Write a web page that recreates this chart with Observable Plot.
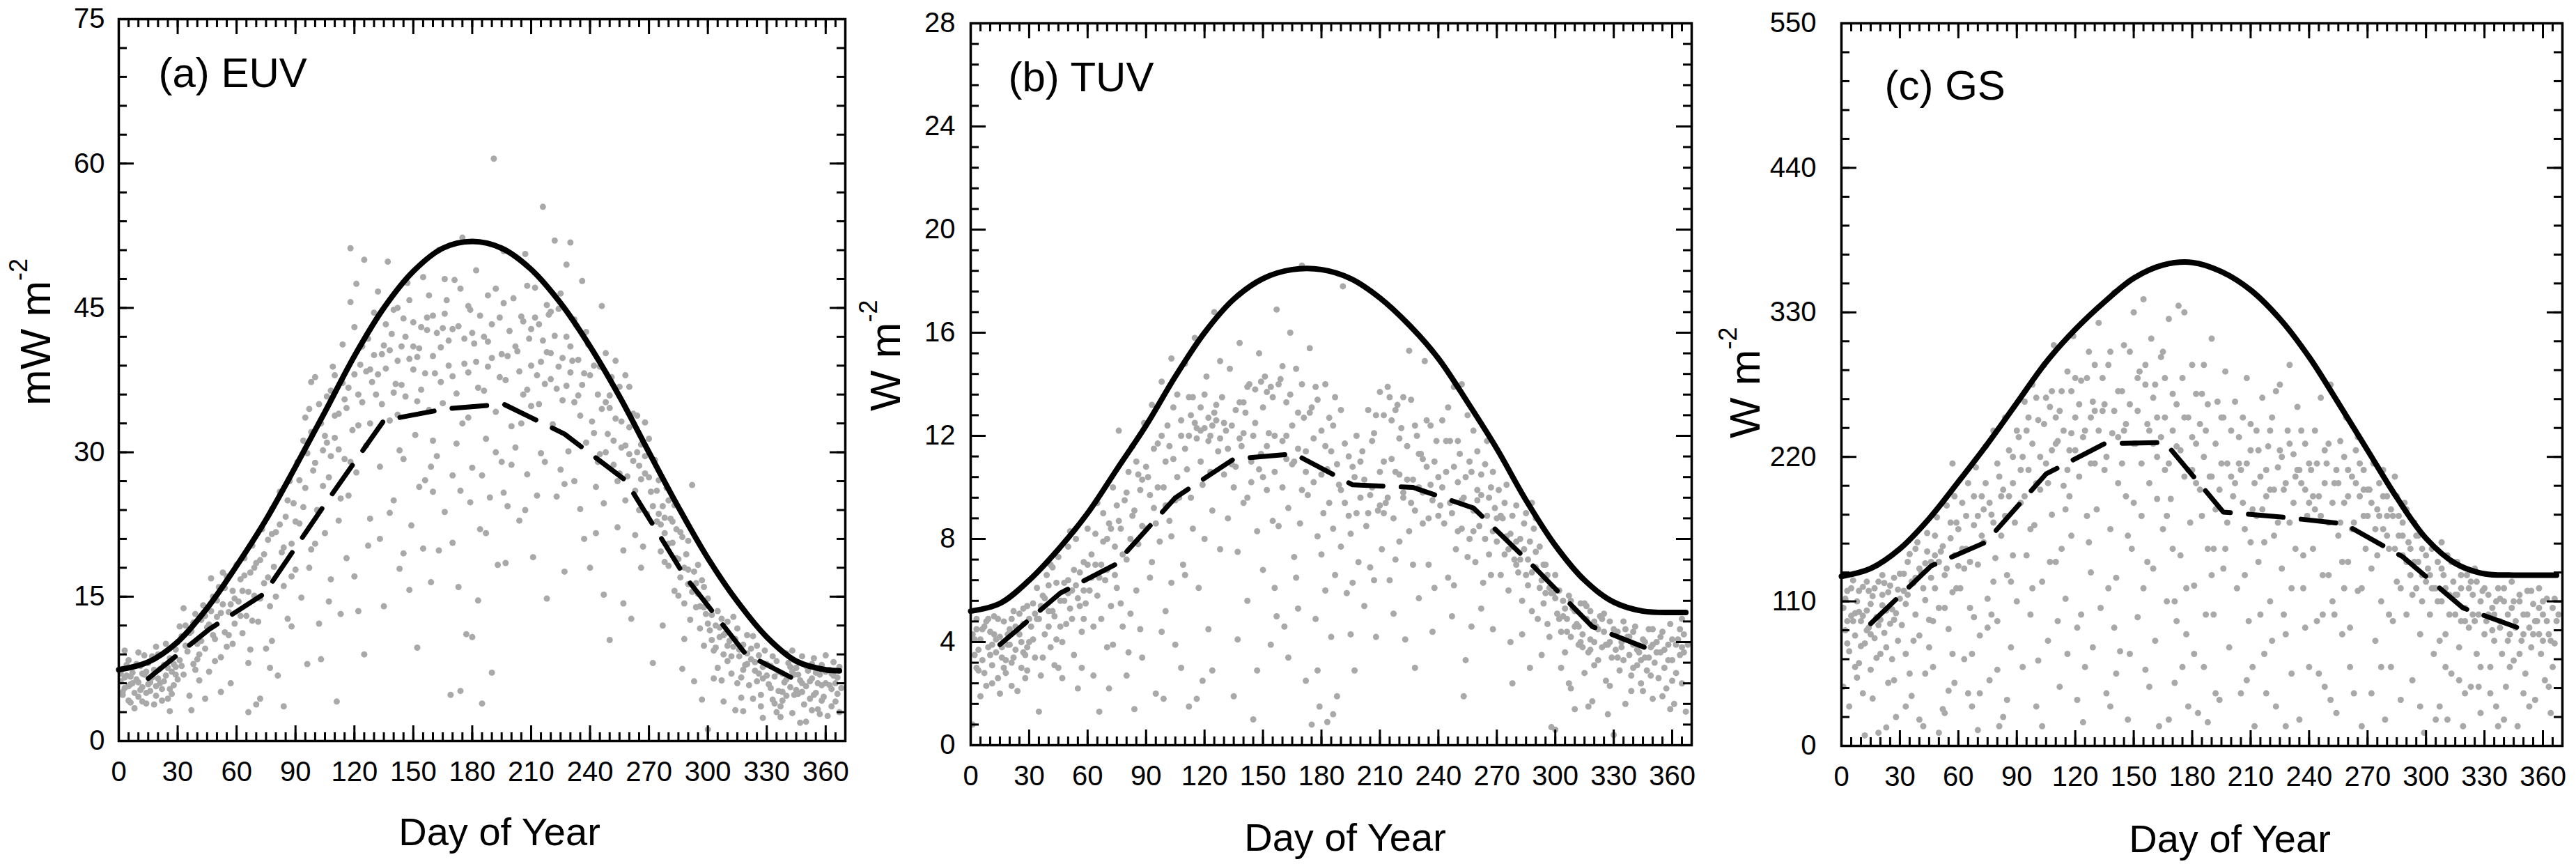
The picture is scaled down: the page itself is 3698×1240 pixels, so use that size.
<!DOCTYPE html>
<html>
<head>
<meta charset="utf-8">
<script src="https://cdn.jsdelivr.net/npm/d3@7"></script>
<script src="https://cdn.jsdelivr.net/npm/@observablehq/plot@0.6"></script>
<style>
  html, body { margin: 0; padding: 0; background: white; }
  #wrap { position: relative; width: 3698px; height: 1240px; background: white; overflow: hidden; }
  #wrap svg { position: absolute; top: 0; }
</style>
</head>
<body>
<div id="wrap"></div>
<script>
// ---------------- DATA ----------------
const xTicks = [0, 30, 60, 90, 120, 150, 180, 210, 240, 270, 300, 330, 360];
const euvTicks = [0, 15, 30, 45, 60, 75];
const tuvTicks = [0, 4, 8, 12, 16, 20, 24, 28];
const gsTicks = [0, 110, 220, 330, 440, 550];

// clear-sky (solid) curve, sampled days
const clearDays = [0, 15, 30, 45, 60, 75, 90, 105, 120, 135, 150, 165, 180, 195, 210, 225, 240, 255, 270, 285, 300, 315, 330, 345, 360, 367];
const euvClear = [7.4, 8.2, 10.3, 13.8, 18.2, 23.0, 28.5, 34.2, 40.0, 45.0, 48.8, 51.2, 51.9, 51.2, 49.0, 45.5, 41.0, 35.8, 30.0, 24.3, 19.0, 14.5, 10.8, 8.3, 7.4, 7.3];
const tuvClear = [5.2, 5.5, 6.4, 7.6, 9.0, 10.7, 12.4, 14.3, 16.0, 17.3, 18.1, 18.45, 18.45, 18.1, 17.35, 16.3, 15.0, 13.3, 11.5, 9.5, 7.75, 6.4, 5.55, 5.2, 5.15, 5.15];
const gsClear = [129, 135, 150, 173, 201, 230, 261, 292, 317, 338, 356, 366, 368, 361, 347, 325, 296, 261, 225, 189, 158, 139, 131, 130, 130, 130];

// monthly mean (dashed) curve
const monthDays = [15, 46, 74, 105, 135, 166, 196, 227, 258, 288, 319, 349];
const euvMean = [6.5, 11.6, 15.3, 24.6, 33.3, 34.5, 35.0, 31.9, 27.1, 17.2, 9.1, 5.9];
const tuvMean = [3.9, 5.9, 7.0, 9.6, 11.1, 11.3, 10.1, 10.0, 9.2, 7.0, 4.6, 3.7];
const gsMean = [93, 137, 155, 207, 230, 231, 178, 174, 169, 144, 105, 89];

// observed daily values: flat [day, value, day, value, ...]
const euvObs = [
1,6.2,2,4.8,2,7.5,3,5.5,4,6.8,5,4.2,5,8.4,6,5.9,7,7.1,8,5.0,9,6.4,10,9.2,10,4.6,11,7.8,12,5.6,13,6.9,14,3.9,15,8.1,16,5.2,17,6.6,18,7.4,19,4.7,20,9.0,21,6.0,22,5.4,23,7.9,24,6.8,25,4.4,26,8.6,27,7.2,28,5.8,29,9.5,30,6.4,3,9.4,8,3.4,13,8.9,18,3.8,24,10.1,27,4.9,12,7.0,6,6.7,20,6.5,15,5.9,
2,5.1,4,7.9,6,4.0,7,6.0,9,8.0,11,5.3,12,4.1,14,7.2,16,6.1,17,8.8,19,5.7,21,7.5,22,4.2,23,6.2,25,7.6,26,5.4,28,8.0,29,6.9,30,10.3,1,7.0,3,6.6,5,5.7,10,6.1,14,5.0,19,9.8,26,3.1,29,7.7,
31,8.4,32,10.9,33,6.9,34,12.0,35,9.3,36,4.7,37,11.4,38,8.0,39,13.2,40,10.1,41,6.3,42,12.6,43,14.1,44,9.6,45,11.8,46,7.2,47,13.5,48,15.0,49,10.6,50,12.9,51,16.0,52,8.7,53,14.2,54,11.3,55,17.1,56,13.4,57,6.0,58,15.6,59,12.2,60,18.3,37,3.2,44,4.4,52,5.1,33,13.8,47,16.9,55,9.8,41,9.0,58,10.1,
32,7.8,34,9.9,36,11.2,38,12.3,40,8.5,42,10.4,44,13.0,46,12.1,48,11.0,50,14.6,52,13.3,54,15.9,56,11.0,59,14.8,31,11.9,39,7.4,49,8.3,53,17.5,57,14.2,
61,14.5,62,16.8,63,11.2,64,19.0,65,13.0,66,8.1,67,17.5,68,20.3,69,15.1,70,3.8,71,12.4,72,18.8,73,22.0,74,16.4,75,9.6,76,20.9,77,14.0,78,24.1,79,18.1,80,21.7,81,6.8,82,25.9,83,19.6,84,16.1,85,23.3,86,12.7,87,27.0,88,20.5,89,24.7,90,17.8,66,3.0,72,4.4,84,3.6,78,10.4,88,11.9,63,15.6,69,18.0,
62,13.0,64,17.2,66,15.5,68,12.5,70,18.5,72,14.8,74,19.4,76,17.0,78,21.5,80,15.0,82,22.5,84,20.1,86,25.0,88,17.1,90,22.8,67,9.5,77,7.6,
91,29.0,92,22.6,93,14.9,94,31.2,95,26.3,96,8.0,97,34.5,98,19.9,99,28.1,100,37.8,101,24.0,102,12.2,103,33.0,104,30.2,105,21.6,106,35.8,107,27.4,108,16.8,109,38.9,110,31.5,111,4.1,112,34.0,113,25.2,114,41.2,115,29.3,116,19.0,117,36.7,118,51.2,119,32.3,120,43.0,121,27.9,122,13.5,123,39.1,124,35.2,125,50.0,126,30.7,127,41.8,128,23.1,129,37.3,130,44.5,95,33.6,100,20.5,105,31.7,110,38.0,115,35.5,120,17.1,125,9.0,112,22.9,118,45.6,103,8.5,108,29.6,128,38.6,122,32.8,113,13.2,98,37.3,
92,27.1,94,24.3,96,29.9,98,32.1,100,28.9,102,35.0,104,26.5,106,31.0,108,36.4,110,33.8,112,30.3,114,37.2,116,34.6,118,29.0,120,38.1,122,36.0,124,41.0,126,38.4,128,33.0,130,40.1,97,18.0,107,14.5,117,25.5,127,20.3,121,47.5,
131,36.0,132,46.7,133,28.5,134,40.2,135,14.0,136,38.7,137,49.8,138,33.3,139,42.3,140,25.0,141,37.1,142,45.0,143,30.2,144,41.0,145,19.5,146,35.8,147,47.6,148,39.7,149,22.4,150,43.5,151,31.8,152,9.7,153,40.8,154,36.5,155,48.2,156,27.1,157,42.7,158,34.4,159,16.5,160,44.2,161,38.2,162,29.6,163,51.0,164,40.9,165,35.1,166,23.8,167,45.8,168,41.6,169,4.8,170,37.9,171,47.9,172,30.9,173,43.1,174,26.0,175,52.3,176,39.2,177,11.1,178,33.6,179,44.8,180,28.4,181,41.3,182,48.9,183,36.7,184,22.0,185,3.9,186,42.0,187,31.4,188,46.3,189,25.3,190,39.8,191,60.5,192,34.2,193,18.3,194,44.0,195,29.0,196,50.9,197,37.5,198,24.4,199,42.6,200,32.7,
135,41.1,140,36.2,145,29.3,150,38.6,155,20.0,160,31.2,165,42.9,170,20.6,175,33.0,180,10.8,185,27.6,190,7.1,195,40.2,145,43.9,160,25.9,170,27.6,178,45.2,152,39.9,188,38.9,142,33.9,174,5.2,183,14.6,166,48.0,157,44.0,138,23.7,196,25.8,148,15.7,192,47.0,
132,38.1,134,35.0,136,43.3,138,40.6,140,44.8,142,39.5,144,37.0,146,42.0,148,45.8,150,41.0,152,35.3,154,43.0,156,38.2,158,46.3,160,40.0,162,42.4,164,37.3,166,44.4,168,39.0,170,42.8,172,36.1,174,47.0,176,41.8,178,38.3,180,42.4,182,39.4,184,44.2,186,36.4,188,41.5,190,43.3,192,30.0,194,37.8,196,45.5,198,40.0,200,28.7,133,21.0,143,17.9,153,26.4,163,19.8,173,16.0,187,21.6,197,18.5,159,28.5,179,24.8,
201,46.0,202,30.5,203,40.5,204,22.9,205,44.1,206,36.0,207,50.6,208,27.7,209,41.8,210,34.8,211,19.1,212,47.1,213,38.0,214,43.3,215,29.9,216,55.5,217,37.1,218,14.8,219,44.3,220,40.3,221,32.9,222,52.0,223,25.4,224,38.9,225,46.5,226,35.4,227,17.6,228,42.0,229,30.1,230,51.8,231,39.5,232,27.0,233,43.2,234,35.9,235,24.1,236,47.8,237,38.2,238,31.0,239,41.2,240,18.0,205,33.0,210,42.8,215,39.4,220,44.6,225,28.2,230,38.3,235,33.8,213,25.5,223,36.6,232,43.8,208,47.3,218,40.4,228,49.5,
202,41.0,204,38.4,206,43.6,208,36.5,210,39.0,212,44.0,214,35.0,216,41.6,218,45.3,220,37.6,222,42.1,224,44.9,226,39.8,228,36.9,230,41.0,232,35.2,234,39.6,236,37.0,238,42.5,240,38.0,207,24.0,217,29.0,227,26.7,237,21.0,
241,33.2,242,39.0,243,26.4,244,36.0,245,29.8,246,45.2,247,24.7,248,35.2,249,31.9,250,10.5,251,37.8,252,28.7,253,33.5,254,22.2,255,36.8,256,30.5,257,19.8,258,38.0,259,27.5,260,32.6,261,12.7,262,29.1,263,26.0,264,33.8,265,24.0,266,30.8,267,20.2,268,27.8,269,23.6,270,31.4,245,38.9,250,34.6,255,27.8,260,36.8,265,28.6,248,40.3,258,25.0,268,33.1,243,21.6,253,39.5,263,21.4,
242,32.0,244,29.0,246,34.5,248,30.0,250,35.9,252,31.2,254,27.0,256,33.2,258,30.7,260,29.8,262,34.0,264,30.0,266,27.2,268,29.6,270,27.4,247,15.2,257,14.3,266,18.0,
271,25.9,272,8.1,273,29.2,274,22.8,275,27.1,276,19.7,277,24.4,278,21.6,279,26.3,280,18.2,281,23.1,282,20.6,283,15.6,284,22.0,285,18.9,286,17.0,287,21.2,288,14.3,289,19.4,290,16.3,291,12.6,292,26.6,293,17.6,294,13.9,295,15.3,296,11.7,297,16.7,298,9.9,299,13.2,300,14.8,275,23.6,280,25.0,285,15.1,290,20.8,295,18.3,278,18.6,288,10.6,298,16.0,283,24.5,293,6.2,300,1.2,
272,24.4,274,26.0,276,22.5,278,23.2,280,20.5,282,22.8,284,19.0,286,21.7,288,18.0,290,17.8,292,15.5,294,16.4,296,14.0,298,13.9,300,12.2,277,12.0,287,7.5,297,4.3,
301,11.5,302,13.1,303,9.4,304,12.0,305,7.6,306,10.8,307,12.7,308,9.0,309,11.2,310,8.3,311,10.4,312,7.0,313,9.8,314,3.2,315,11.7,316,8.8,317,6.6,318,10.0,319,7.9,320,9.1,321,5.8,322,8.5,323,10.9,324,7.3,325,6.2,326,8.9,327,4.8,328,7.7,329,9.4,330,6.8,305,13.5,310,12.4,315,6.0,320,11.0,325,9.9,308,4.1,318,3.1,328,2.4,303,6.5,313,12.9,323,4.4,
302,10.5,304,9.7,306,11.8,308,11.0,310,9.9,312,8.8,314,10.6,316,9.5,318,7.4,320,8.0,322,9.6,324,8.2,326,7.0,328,6.5,330,8.0,307,6.3,317,4.5,327,3.6,
331,5.9,332,7.8,333,4.3,334,6.7,335,8.3,336,5.2,337,3.6,338,7.0,339,6.1,340,4.7,341,8.1,342,5.6,343,2.9,344,6.9,345,7.6,346,4.9,347,6.3,348,8.8,349,3.8,350,5.7,351,7.3,352,4.4,353,6.5,354,8.6,355,5.0,356,3.3,357,6.9,358,7.9,359,4.6,360,6.0,361,2.6,362,7.4,363,5.4,364,8.2,365,4.1,366,6.6,367,3.0,335,3.0,340,9.1,345,5.3,350,2.0,355,7.1,360,8.9,365,6.0,338,5.1,348,6.0,358,5.8,343,9.4,353,3.2,363,3.6,
332,5.5,334,3.9,336,7.2,338,4.2,340,6.4,342,7.7,344,4.8,346,6.9,348,5.1,350,7.8,352,6.2,354,4.8,356,6.0,358,4.2,360,7.2,362,5.8,364,6.8,366,4.9,368,5.5,333,8.8,343,7.2,353,8.0,363,7.0,337,2.5,347,1.9,357,2.8,367,7.7
];

const tuvObs = [
1,4.3,1,0.8,2,3.5,3,4.9,4,2.9,5,4.1,6,3.3,7,4.6,8,2.3,9,3.8,10,4.4,11,3.1,12,5.0,13,3.6,14,2.6,15,4.2,16,3.4,17,4.8,18,2.8,19,3.9,20,4.5,21,3.2,22,5.2,23,3.7,24,2.1,25,4.3,26,3.0,27,4.7,28,3.5,29,5.4,30,4.0,3,3.0,8,4.8,13,4.1,18,3.3,23,4.6,28,2.6,5,1.9,15,2.0,25,5.1,10,3.5,20,3.9,27,3.6,
2,4.1,4,3.7,6,4.5,7,2.8,9,4.9,11,3.9,12,4.3,14,4.9,16,3.8,17,3.0,19,4.3,21,4.9,22,3.4,24,4.5,26,4.0,27,5.3,29,3.8,30,4.9,3,4.5,11,2.4,21,2.3,29,2.9,
31,4.6,32,5.5,33,3.4,34,6.1,35,4.9,36,2.7,37,5.8,38,4.3,39,6.6,40,5.2,41,3.8,42,6.9,43,5.0,44,4.1,45,7.3,46,5.6,47,2.6,48,6.3,49,4.7,50,7.7,51,5.3,52,6.0,53,3.5,54,8.0,55,5.7,56,6.7,57,4.4,58,7.1,59,5.5,60,8.4,35,1.3,45,3.0,55,2.2,40,6.2,50,5.9,58,4.9,33,5.1,43,3.1,53,6.8,
32,4.1,34,4.9,36,5.4,38,5.7,40,4.6,42,5.2,44,6.3,46,4.6,48,5.6,50,6.4,52,4.9,54,6.2,56,5.4,58,6.0,60,7.0,37,3.4,47,4.0,57,3.0,41,7.0,51,8.3,
61,6.0,62,7.4,63,4.6,64,8.2,65,5.8,66,1.3,67,7.0,68,9.0,69,6.4,70,3.8,71,8.6,72,5.4,73,10.0,74,7.7,75,6.1,76,12.2,77,8.4,78,4.6,79,9.5,80,7.2,81,10.6,82,5.1,83,8.9,84,1.4,85,11.0,86,7.8,87,9.9,88,3.4,89,12.5,90,8.4,65,9.4,70,8.0,75,9.3,80,2.7,85,6.0,88,10.3,63,2.7,73,3.9,83,11.6,
62,6.5,64,7.0,66,6.5,68,7.9,70,6.8,72,8.4,74,6.6,76,8.7,78,7.4,80,9.8,82,8.0,84,9.1,86,10.5,88,8.5,90,10.8,67,4.9,77,5.5,87,4.5,71,2.2,81,3.6,
91,10.4,92,6.5,93,13.2,94,9.2,95,2.0,96,11.7,97,7.9,98,14.1,99,10.0,100,5.2,101,12.4,102,8.7,103,15.0,104,11.1,105,3.9,106,13.6,107,9.6,108,12.0,109,7.0,110,14.8,111,10.7,112,1.5,113,12.8,114,8.4,115,15.8,116,11.9,117,6.1,118,13.1,119,10.1,120,12.3,121,14.3,122,4.5,123,12.0,124,9.1,125,16.8,126,12.6,127,11.4,128,7.6,129,13.5,130,10.5,95,8.6,100,11.0,105,9.5,110,6.6,115,12.5,120,8.0,125,12.9,112,13.5,118,11.0,122,12.7,128,14.9,108,3.0,116,1.8,124,2.9,98,4.4,103,6.3,
92,9.7,94,11.5,96,10.0,98,12.0,100,9.3,102,11.6,104,13.1,106,10.4,108,12.6,110,11.5,112,12.0,114,13.5,116,12.3,118,12.2,120,13.6,122,11.8,124,12.4,126,13.2,128,11.9,130,12.5,93,7.1,103,8.1,113,9.6,123,10.6,99,1.8,119,2.5,
131,12.2,132,8.8,133,14.6,134,10.9,135,1.9,136,13.0,137,7.5,138,15.6,139,11.6,140,9.4,141,12.9,142,5.6,143,14.0,144,10.2,145,1.0,146,13.8,147,8.3,148,15.2,149,11.3,150,6.8,151,14.3,152,9.9,153,12.1,154,3.9,155,13.5,156,10.6,157,16.9,158,8.5,159,14.2,160,11.8,161,4.6,162,13.3,163,9.2,164,16.0,165,10.9,166,7.3,167,14.6,168,11.5,169,8.6,170,18.6,171,12.7,172,2.5,173,9.7,174,15.4,175,0.8,176,11.9,177,13.9,178,8.1,179,1.5,180,12.2,181,9.0,182,6.0,183,10.7,184,12.7,185,4.2,186,8.4,187,13.5,188,1.9,189,10.1,190,7.7,191,17.8,192,9.4,193,5.9,194,11.2,195,8.2,196,6.3,197,10.4,198,12.0,199,7.1,200,9.6,
135,10.0,140,13.3,145,12.0,150,10.4,155,8.7,160,14.7,165,12.4,170,9.9,175,13.1,180,7.4,185,11.4,190,13.0,195,4.3,142,9.6,152,13.7,162,11.1,172,10.6,182,14.0,156,6.1,168,5.3,178,2.9,186,1.2,149,14.1,138,11.9,
132,11.5,134,12.4,136,10.8,138,13.3,140,12.1,142,13.9,144,11.0,146,12.5,148,10.7,150,13.1,152,11.6,154,13.9,156,12.0,158,14.0,160,10.0,162,12.0,164,13.6,166,11.0,168,12.9,170,14.0,172,11.4,174,12.9,176,10.2,178,13.4,180,10.5,182,11.6,184,9.4,186,12.4,188,10.9,190,9.9,192,11.7,194,8.9,196,10.8,198,9.0,200,11.0,137,4.1,147,2.9,157,5.0,167,6.5,177,4.9,187,6.6,197,2.9,163,3.4,183,0.9,
201,11.4,202,5.4,203,8.5,204,13.0,205,6.9,206,10.0,207,12.1,208,4.2,209,9.1,210,13.7,211,7.6,212,11.0,213,9.4,214,13.9,215,6.4,216,12.6,217,8.8,218,10.6,219,13.2,220,7.9,221,12.3,222,9.8,223,4.1,224,11.6,225,8.3,226,13.4,227,10.3,228,9.1,229,12.0,230,5.7,231,11.3,232,8.6,233,14.9,234,10.8,235,7.0,236,12.4,237,9.5,238,6.1,239,11.8,240,8.9,205,9.7,210,9.3,215,13.5,220,10.5,225,15.3,230,10.0,235,8.8,212,9.0,222,9.6,232,11.1,218,7.2,228,3.0,
202,10.3,204,9.0,206,11.8,208,12.8,210,10.6,212,12.8,214,9.6,216,11.1,218,13.0,220,11.9,222,13.5,224,10.3,226,9.4,228,12.4,230,11.3,232,9.8,234,12.6,236,10.1,238,11.0,240,10.4,207,6.4,217,5.1,227,7.0,237,4.4,
241,9.3,242,12.6,243,8.6,244,10.6,245,6.5,246,11.8,247,9.0,248,13.9,249,7.6,250,10.2,251,11.3,252,8.4,253,9.6,254,3.3,255,12.8,256,8.0,257,10.6,258,9.1,259,7.1,260,11.4,261,8.5,262,9.7,263,6.3,264,10.9,265,8.9,266,7.4,267,10.0,268,4.5,269,9.2,270,7.9,245,13.1,250,8.3,255,7.3,260,9.5,265,11.8,248,6.2,258,12.2,268,8.3,252,14.0,262,5.3,
242,10.0,244,11.8,246,9.4,248,10.8,250,11.8,252,9.5,254,10.4,256,11.0,258,8.3,260,9.9,262,10.5,264,8.0,266,9.6,268,10.6,270,8.8,247,5.0,257,4.6,267,6.6,253,1.9,
271,9.9,272,6.6,273,8.8,274,7.4,275,10.1,276,6.0,277,8.2,278,2.4,279,7.2,280,9.3,281,6.7,282,8.0,283,5.6,284,7.6,285,9.0,286,6.2,287,7.9,288,5.2,289,8.4,290,6.9,291,4.9,292,7.7,293,6.4,294,5.5,295,7.0,296,4.7,297,6.1,298,0.7,299,5.9,300,6.6,275,8.1,280,7.0,285,6.6,290,8.8,295,5.9,300,0.6,283,4.3,293,3.5,278,7.7,288,9.4,
272,8.9,274,9.4,276,7.6,278,8.9,280,7.9,282,7.2,284,8.6,286,7.2,288,6.7,290,7.5,292,6.1,294,7.0,296,6.6,298,5.9,300,5.7,277,4.0,287,3.0,297,4.2,
301,5.1,302,6.0,303,4.4,304,5.6,305,3.6,306,4.9,307,5.8,308,4.2,309,5.3,310,1.4,311,4.7,312,3.9,313,5.5,314,4.3,315,2.8,316,4.9,317,3.6,318,5.2,319,1.7,320,4.0,321,4.6,322,3.3,323,5.0,324,3.8,325,4.4,326,2.5,327,3.9,328,4.8,329,3.4,330,0.4,305,5.3,310,4.6,315,5.5,320,3.1,325,5.1,308,2.2,318,4.1,328,2.3,303,3.0,313,4.0,
302,4.9,304,5.0,306,4.4,308,5.6,310,5.2,312,4.6,314,3.8,316,5.4,318,3.7,320,4.8,322,4.5,324,4.9,326,3.9,328,4.0,330,4.5,307,2.4,317,1.5,327,1.2,
331,3.7,332,4.4,333,2.9,334,4.0,335,3.3,336,1.6,337,4.2,338,3.5,339,2.7,340,3.9,341,4.6,342,3.1,343,3.6,344,2.4,345,4.1,346,3.4,347,2.9,348,4.5,349,3.8,350,1.8,351,3.2,352,4.0,353,2.6,354,3.6,355,4.4,356,3.0,357,2.2,358,3.9,359,4.7,360,3.3,361,1.6,362,2.8,363,4.1,364,3.5,365,2.4,366,4.3,367,1.3,335,4.8,345,2.1,355,1.9,365,3.8,340,3.0,350,4.5,360,2.5,
332,3.4,334,3.8,336,4.5,338,4.2,340,4.4,342,3.7,344,3.3,346,4.0,348,3.4,350,3.9,352,3.6,354,4.2,356,3.7,358,3.3,360,4.1,362,3.9,364,4.5,366,3.6,368,3.9,339,2.1,349,2.7,359,1.4,365,4.9
];

const gsObs = [
1,105,1,45,2,88,3,118,4,72,5,99,6,126,7,84,8,110,9,63,10,95,11,121,12,78,13,103,14,90,15,58,16,114,17,82,18,98,19,125,20,70,21,107,22,86,23,14,24,117,25,93,26,66,27,128,28,101,29,80,30,112,4,30,8,52,12,8,16,36,20,96,24,48,28,22,6,95,14,118,22,124,26,104,10,76,18,67,
2,112,3,95,5,120,7,101,9,118,11,99,13,125,15,108,17,120,19,92,21,115,23,103,25,122,27,96,29,119,30,131,3,78,7,60,11,40,15,85,19,10,23,75,27,50,13,88,21,130,9,102,
31,92,32,131,33,70,34,115,35,146,36,38,37,124,38,100,39,155,40,84,41,132,42,15,43,111,44,162,45,96,46,140,47,60,48,120,49,174,50,105,51,148,52,28,53,130,54,183,55,89,56,158,57,117,58,48,59,170,60,137,35,55,40,20,45,75,50,10,55,42,38,128,48,145,58,190,33,108,43,139,53,105,57,215,
32,118,34,140,36,125,38,150,40,135,42,120,44,148,46,128,48,160,50,140,52,152,54,135,56,170,58,145,60,165,37,80,47,95,57,70,33,30,43,55,53,25,59,120,
61,120,62,185,63,66,64,150,65,200,66,105,67,30,68,168,69,212,70,138,71,84,72,190,73,155,74,228,75,112,76,50,77,176,78,240,79,143,80,95,81,205,82,160,83,22,84,250,85,130,86,190,87,75,88,220,89,170,90,110,65,40,70,12,75,90,80,58,85,35,88,145,63,135,73,180,83,195,78,125,68,98,
62,150,64,175,66,140,68,190,70,175,72,160,74,200,76,185,78,170,80,215,82,190,84,175,86,225,88,200,90,240,67,70,77,100,87,125,71,40,81,15,
91,235,92,185,93,60,94,262,95,145,96,210,97,100,98,275,99,168,100,30,101,248,102,195,103,125,104,290,105,215,106,80,107,258,108,176,109,305,110,140,111,232,112,45,113,270,114,198,115,112,116,285,117,225,118,160,119,312,120,250,121,90,122,205,123,278,124,18,125,240,126,175,127,300,128,132,129,262,130,215,95,240,100,200,105,265,110,250,115,180,120,280,125,60,130,290,98,120,108,225,118,238,128,250,103,15,113,150,123,100,93,220,116,70,
92,210,94,190,96,250,98,230,100,265,102,220,104,245,106,200,108,270,110,230,112,255,114,240,116,210,118,270,120,225,122,260,124,235,126,280,128,215,130,255,97,165,107,140,117,190,127,155,101,65,111,95,121,35,129,75,
131,180,132,322,133,105,134,255,135,210,136,40,137,290,138,165,139,238,140,345,141,128,142,270,143,72,144,215,145,305,146,190,147,20,148,260,149,150,150,330,151,230,152,98,153,285,154,175,155,340,156,58,157,245,158,200,159,310,160,135,161,275,162,220,163,15,164,296,165,165,166,250,167,110,168,325,169,188,170,268,171,48,172,228,173,335,174,145,175,280,176,205,177,85,178,250,179,170,180,290,181,122,182,230,183,25,184,195,185,268,186,60,187,240,188,150,189,205,190,310,191,100,192,180,193,262,194,35,195,215,196,135,197,285,198,170,199,75,200,240,
135,260,140,90,145,240,150,185,155,120,160,230,165,300,170,150,175,60,180,210,185,175,190,130,195,250,142,200,152,280,162,188,172,95,182,268,192,40,138,30,148,70,158,45,168,20,178,30,188,18,156,275,166,210,176,330,186,290,
132,240,134,280,136,220,138,300,140,255,142,235,144,270,146,245,148,300,150,230,152,255,154,215,156,290,158,240,160,265,162,250,164,235,166,280,168,215,170,240,172,260,174,225,176,250,178,210,180,235,182,200,184,245,186,220,188,260,190,205,192,230,194,195,196,250,198,215,200,205,137,120,147,160,157,140,167,175,177,120,187,100,197,150,141,55,161,80,171,110,181,70,191,150,
201,190,202,262,203,120,204,215,205,40,206,250,207,165,208,280,209,95,210,225,211,180,212,15,213,240,214,140,215,205,216,265,217,70,218,190,219,228,220,110,221,250,222,160,223,30,224,212,225,275,226,135,227,195,228,85,229,240,230,170,231,55,232,222,233,150,234,258,235,20,236,200,237,120,238,230,239,175,240,60,205,210,210,155,215,100,220,195,225,225,230,290,235,210,240,185,208,50,218,40,228,15,238,90,213,175,223,270,233,205,
202,200,204,235,206,185,208,215,210,245,212,200,214,225,216,180,218,210,220,240,222,195,224,170,226,220,228,200,230,230,232,185,234,210,236,240,238,195,240,215,207,130,217,155,227,100,237,145,211,60,221,80,231,120,
241,210,242,150,243,240,244,95,245,190,246,265,247,130,248,45,249,215,250,170,251,275,252,110,253,200,254,25,255,160,256,232,257,85,258,185,259,250,260,140,261,60,262,205,263,170,264,225,265,118,266,190,267,15,268,210,269,150,270,175,245,55,250,130,255,200,260,210,265,235,243,180,253,100,263,40,268,195,258,120,248,225,
242,190,244,215,246,175,248,200,250,230,252,185,254,210,256,170,258,220,260,190,262,165,264,200,266,215,268,175,270,195,247,100,257,140,267,120,251,35,261,90,
271,195,272,135,273,215,274,80,275,180,276,200,277,110,278,165,279,20,280,190,281,150,282,60,283,175,284,205,285,125,286,160,287,35,288,145,289,185,290,100,291,155,292,130,293,50,294,170,295,120,296,140,297,85,298,150,299,10,300,125,275,145,280,175,285,190,290,140,295,160,272,40,283,95,293,115,278,210,288,170,298,110,
272,185,274,165,276,175,278,190,280,160,282,180,284,150,286,175,288,160,290,180,292,150,294,140,296,160,298,130,300,145,277,60,287,120,297,30,281,100,
301,135,302,100,303,150,304,70,305,120,306,140,307,30,308,110,309,130,310,85,311,145,312,115,313,55,314,125,315,100,316,140,317,75,318,120,319,15,320,105,321,130,322,90,323,45,324,115,325,135,326,70,327,100,328,25,329,118,330,85,305,20,310,60,315,115,320,40,325,95,303,120,313,140,323,125,318,95,308,155,328,60,
302,130,304,120,306,110,308,135,310,120,312,100,314,140,316,115,318,130,320,95,322,120,324,100,326,125,328,110,330,120,307,80,317,50,327,45,311,20,
331,95,332,115,333,60,334,105,335,80,336,30,337,120,338,90,339,70,340,110,341,45,342,100,343,85,344,125,345,65,346,95,347,15,348,110,349,80,350,100,351,55,352,118,353,90,354,75,355,108,356,35,357,95,358,120,359,70,360,100,361,50,362,112,363,85,364,25,365,105,366,78,367,95,335,100,345,110,355,85,365,60,340,20,350,40,360,80,338,112,348,70,358,105,
332,100,334,88,336,110,338,95,340,120,342,80,344,105,346,90,348,115,350,85,352,100,354,118,356,95,358,85,360,110,362,95,364,80,366,112,368,100,333,40,343,60,353,30,363,45,337,15
];

// ---------------- DRAW ----------------
const FONT = "'Liberation Sans', Arial, Helvetica, sans-serif";
const H = 1240;

function pairs(flat) {
  const out = [];
  for (let i = 0; i < flat.length; i += 2) out.push({ d: flat[i], v: flat[i + 1] });
  return out;
}
function zip(days, vals) { return days.map((d, i) => ({ d, v: vals[i] })); }

function panel(o) {
  const fw = o.width - o.mL - o.mR;
  const fh = H - o.mT - o.mB;
  const ymax = o.yTicks[o.yTicks.length - 1];
  const yMinorStep = (o.yTicks[1] - o.yTicks[0]) / 5;
  const xMinor = d3.range(5, 370, 5);
  const yMinor = d3.range(1, 5 * (o.yTicks.length - 1)).map(i => i * yMinorStep);
  const yMajor = o.yTicks.slice(1, -1);
  const xMajor = xTicks.slice(1);
  const tk = { stroke: "black", strokeWidth: 3 };
  const minL = 12, majL = 22;

  const svg = Plot.plot({
    width: o.width, height: H,
    marginLeft: o.mL, marginRight: o.mR, marginTop: o.mT, marginBottom: o.mB,
    x: { domain: [0, 370] },
    y: { domain: [0, ymax] },
    style: { fontFamily: FONT, background: "white", color: "black", overflow: "visible" },
    marks: [
      Plot.dot(pairs(o.obs), { x: "d", y: "v", r: 4.5, fill: "#a9a9a9", stroke: "none" }),
      Plot.line(zip(clearDays, o.clear), { x: "d", y: "v", stroke: "black", strokeWidth: 8, curve: "catmull-rom" }),
      Plot.line(zip(monthDays, o.mean), { x: "d", y: "v", stroke: "black", strokeWidth: 7, strokeDasharray: "50,26" }),
      // inward ticks on all four sides
      Plot.tickX(xMinor, { x: d => d, insetTop: fh - minL, ...tk }),
      Plot.tickX(xMajor, { x: d => d, insetTop: fh - majL, ...tk }),
      Plot.tickX(xMinor, { x: d => d, insetBottom: fh - minL, ...tk }),
      Plot.tickX(xMajor, { x: d => d, insetBottom: fh - majL, ...tk }),
      Plot.tickY(yMinor, { y: d => d, insetRight: fw - minL, ...tk }),
      Plot.tickY(yMajor, { y: d => d, insetRight: fw - majL, ...tk }),
      Plot.tickY(yMinor, { y: d => d, insetLeft: fw - minL, ...tk }),
      Plot.tickY(yMajor, { y: d => d, insetLeft: fw - majL, ...tk }),
      Plot.frame({ stroke: "black", strokeWidth: 3.5 }),
      Plot.axisX({ ticks: xTicks, tickSize: 0, tickPadding: 29, fontSize: 40, label: null, tickFormat: d => String(d) }),
      Plot.axisY({ ticks: o.yTicks, tickSize: 0, tickPadding: o.yPad, fontSize: 40, label: null, tickFormat: d => String(d) }),
      Plot.text([o.label], { frameAnchor: "top-left", textAnchor: "start", lineAnchor: "bottom", dx: o.labDx, dy: o.labDy, fontSize: 60, fill: "black" }),
      Plot.text(["Day of Year"], { frameAnchor: "bottom", lineAnchor: "bottom", dx: o.xlDx, dy: o.xlDy, fontSize: 56, fill: "black" })
    ]
  });

  // y-axis title with superscript
  const t = d3.select(svg).append("text")
    .attr("transform", `translate(${o.ylX},${o.ylY}) rotate(-90)`)
    .attr("font-family", FONT)
    .attr("font-size", 62)
    .attr("fill", "black")
    .attr("text-anchor", "start");
  t.append("tspan").text(o.yUnit);
  t.append("tspan").attr("font-size", 36).attr("dy", -33).text("-2");

  svg.style.left = o.left + "px";
  document.getElementById("wrap").appendChild(svg);
}

panel({ left: 0, width: 1240, mL: 170, mR: 27, mT: 27, mB: 177,
  obs: euvObs, clear: euvClear, mean: euvMean, yTicks: euvTicks, yPad: 20,
  label: "(a) EUV", labDx: 57, labDy: 97, xlDx: 25, xlDy: 149,
  yUnit: "mW m", ylX: 72, ylY: 582 });

panel({ left: 1240, width: 1240, mL: 153, mR: 52, mT: 33, mB: 171,
  obs: tuvObs, clear: tuvClear, mean: tuvMean, yTicks: tuvTicks, yPad: 22,
  label: "(b) TUV", labDx: 54, labDy: 97, xlDx: 20, xlDy: 151,
  yUnit: "W m", ylX: 52, ylY: 590 });

panel({ left: 2480, width: 1218, mL: 163, mR: 20, mT: 33, mB: 170,
  obs: gsObs, clear: gsClear, mean: gsMean, yTicks: gsTicks, yPad: 36,
  label: "(c) GS", labDx: 62, labDy: 109, xlDx: 40, xlDy: 152,
  yUnit: "W m", ylX: 46, ylY: 629 });
</script>
</body>
</html>
